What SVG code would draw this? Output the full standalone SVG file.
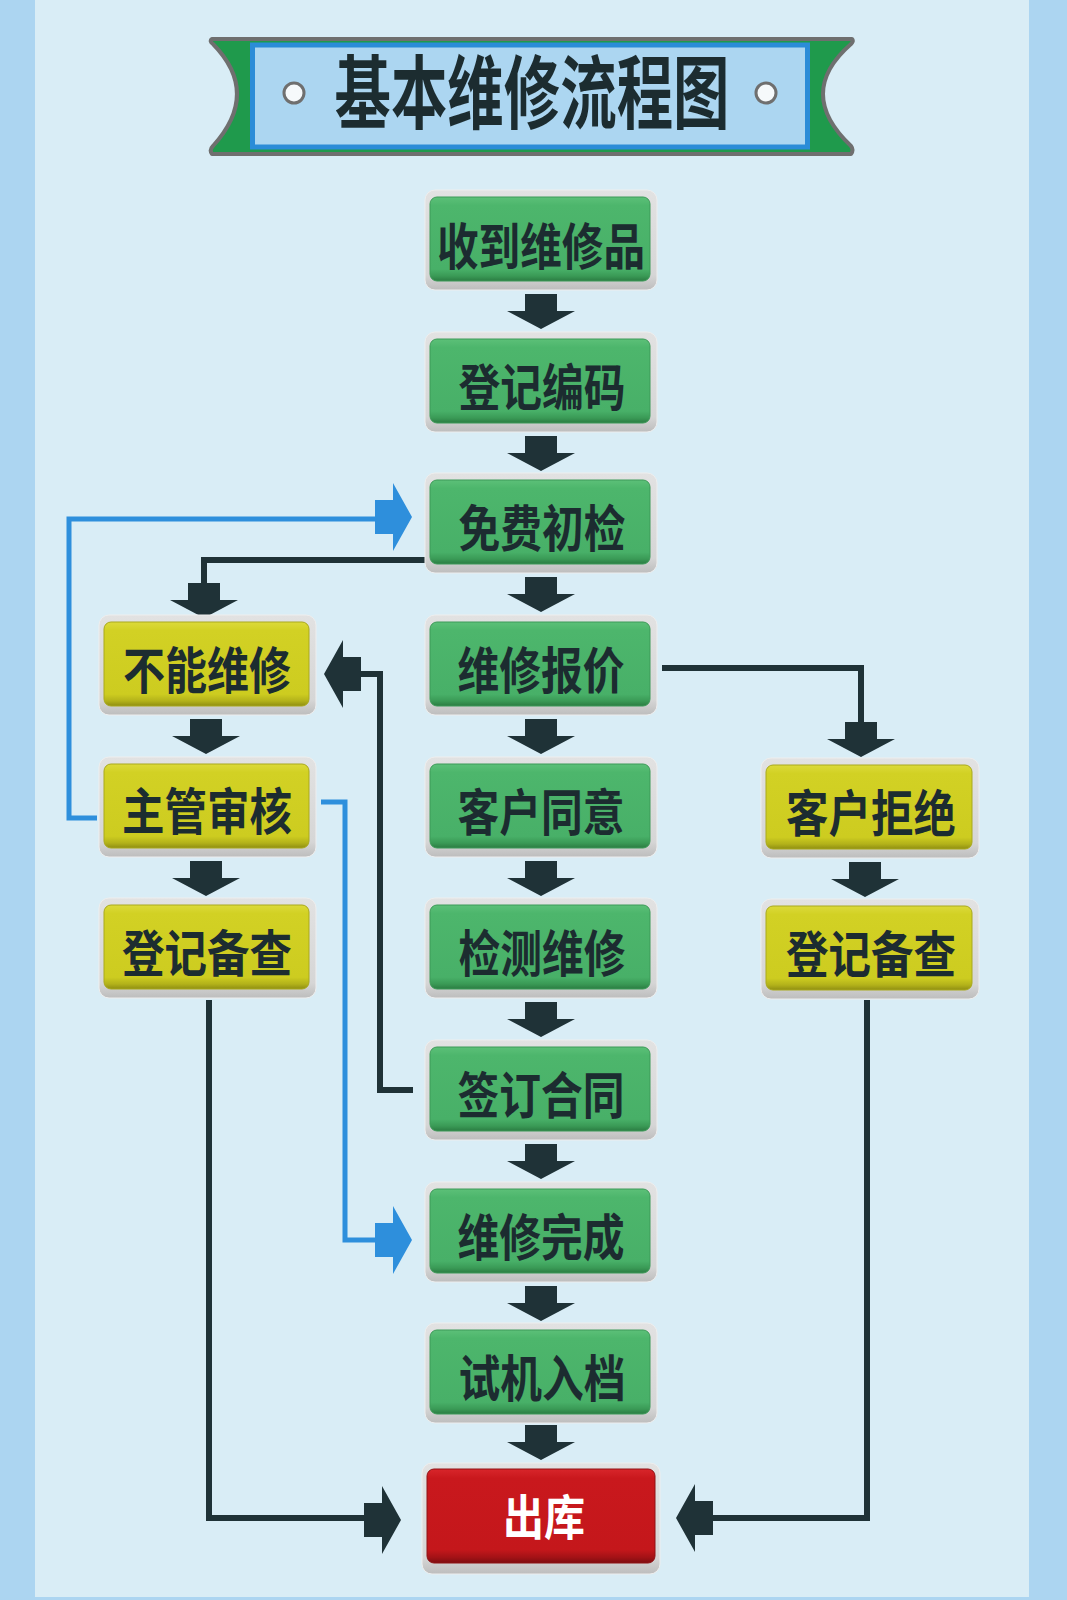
<svg xmlns="http://www.w3.org/2000/svg" xmlns:xlink="http://www.w3.org/1999/xlink" width="1067" height="1600" viewBox="0 0 1067 1600">
<defs>
<style>
.frame{fill:url(#gFrame);stroke:#eeeeee;stroke-width:1}
.green .body{fill:url(#gGreen);stroke:#3d9a58;stroke-width:1}
.yellow .body{fill:url(#gYellow);stroke:#a9a91c;stroke-width:1}
.red .body{fill:url(#gRed);stroke:#8f1215;stroke-width:1}
.node text{font-family:"Noto Sans CJK SC","Noto Sans CJK TC",sans-serif;font-weight:700;font-size:50px;fill:#1c2c30;text-anchor:middle}
.red text{fill:#ffffff;font-size:48px}
.dark{fill:none;stroke:#1f3237;stroke-width:6}
.blue{fill:none;stroke:#2e8fdc;stroke-width:5}
.ahd{fill:#1f3237}
.ahb{fill:#2e8fdc}
</style>
<linearGradient id="gFrame" x1="0" y1="0" x2="0" y2="1">
<stop offset="0" stop-color="#e2e2e2"/><stop offset="0.85" stop-color="#d6d6d6"/><stop offset="1" stop-color="#bdbdbd"/>
</linearGradient>
<linearGradient id="gGreen" x1="0" y1="0" x2="0" y2="1">
<stop offset="0" stop-color="#5cc078"/><stop offset="0.1" stop-color="#4db66c"/><stop offset="0.86" stop-color="#48b068"/><stop offset="0.94" stop-color="#3a9a56"/><stop offset="1" stop-color="#2b7c42"/>
</linearGradient>
<linearGradient id="gYellow" x1="0" y1="0" x2="0" y2="1">
<stop offset="0" stop-color="#dcda3a"/><stop offset="0.1" stop-color="#d2d124"/><stop offset="0.86" stop-color="#cdcc20"/><stop offset="0.94" stop-color="#b3b21a"/><stop offset="1" stop-color="#8f8e12"/>
</linearGradient>
<linearGradient id="gRed" x1="0" y1="0" x2="0" y2="1">
<stop offset="0" stop-color="#d8262b"/><stop offset="0.1" stop-color="#c9181d"/><stop offset="0.86" stop-color="#c4171b"/><stop offset="0.94" stop-color="#a31216"/><stop offset="1" stop-color="#7e0d10"/>
</linearGradient>
<path id="arrDown" d="M-16 0H16V17H34L0 35L-34 17H-16Z"/>
<path id="arrRight" d="M0 -17H18V-34L37 0L18 34V17H0Z"/>
<path id="arrLeft" d="M0 -17H-18V-34L-37 0L-18 34V17H0Z"/>
</defs>

<rect x="0" y="0" width="1067" height="1600" fill="#acd5f1"/>
<rect x="35" y="0" width="994" height="1597" fill="#d9edf6"/>

<g id="title">
<path d="M212 39H852Q854 41 851 44Q795 93 851 146Q854 150 851 154H212Q209 150 213 146Q261 93 213 44Q209 41 212 39Z" fill="#1f9a4c" stroke="#6f6f6f" stroke-width="4" stroke-linejoin="round"/>
<rect x="252.5" y="45" width="555" height="102" fill="#acd6f1" stroke="#2b8cd8" stroke-width="5"/>
<circle cx="294" cy="93" r="10" fill="#f6f9fb" stroke="#6f6f6f" stroke-width="3"/>
<circle cx="766" cy="93" r="10" fill="#f6f9fb" stroke="#6f6f6f" stroke-width="3"/>
<text x="532" y="122" textLength="395" lengthAdjust="spacingAndGlyphs" font-family="Noto Sans CJK SC, Noto Sans CJK TC, sans-serif" font-weight="700" font-size="80" fill="#1c2c30" text-anchor="middle">基本维修流程图</text>
</g>

<g id="connectors">
<use href="#arrDown" x="541" y="294" class="ahd"/>
<use href="#arrDown" x="541" y="436" class="ahd"/>
<use href="#arrDown" x="541" y="577" class="ahd"/>
<use href="#arrDown" x="541" y="719" class="ahd"/>
<use href="#arrDown" x="541" y="861" class="ahd"/>
<use href="#arrDown" x="541" y="1002" class="ahd"/>
<use href="#arrDown" x="541" y="1144" class="ahd"/>
<use href="#arrDown" x="541" y="1286" class="ahd"/>
<use href="#arrDown" x="541" y="1425" class="ahd"/>
<use href="#arrDown" x="206" y="719" class="ahd"/>
<use href="#arrDown" x="206" y="861" class="ahd"/>
<use href="#arrDown" x="865" y="862" class="ahd"/>
<path class="dark" d="M428 560H204V590"/>
<use href="#arrDown" x="204" y="583" class="ahd"/>
<path class="dark" d="M662 668H861V726"/>
<use href="#arrDown" x="861" y="722" class="ahd"/>
<path class="dark" d="M413 1090H380V674H358"/>
<use href="#arrLeft" x="361" y="674" class="ahd"/>
<path class="dark" d="M209 1000V1518H370"/>
<use href="#arrRight" x="364" y="1520" class="ahd"/>
<path class="dark" d="M867 1000V1518H708"/>
<use href="#arrLeft" x="713" y="1518" class="ahd"/>
<path class="blue" d="M97 818H69V519H380"/>
<use href="#arrRight" x="375" y="517" class="ahb"/>
<path class="blue" d="M321 802H345V1240H380"/>
<use href="#arrRight" x="375" y="1240" class="ahb"/>
</g>

<g id="n1" class="node green">
<rect class="frame" x="425" y="190" width="232" height="100" rx="10"/>
<rect class="body" x="430" y="197" width="220" height="84" rx="7"/>
<text x="541" y="265" textLength="208" lengthAdjust="spacingAndGlyphs">收到维修品</text>
</g>
<g id="n2" class="node green">
<rect class="frame" x="425" y="332" width="232" height="100" rx="10"/>
<rect class="body" x="430" y="339" width="220" height="84" rx="7"/>
<text x="542" y="406" textLength="167" lengthAdjust="spacingAndGlyphs">登记编码</text>
</g>
<g id="n3" class="node green">
<rect class="frame" x="425" y="473" width="232" height="100" rx="10"/>
<rect class="body" x="430" y="480" width="220" height="84" rx="7"/>
<text x="542" y="547" textLength="167" lengthAdjust="spacingAndGlyphs">免费初检</text>
</g>
<g id="n4" class="node green">
<rect class="frame" x="425" y="615" width="232" height="100" rx="10"/>
<rect class="body" x="430" y="622" width="220" height="84" rx="7"/>
<text x="541" y="689" textLength="167" lengthAdjust="spacingAndGlyphs">维修报价</text>
</g>
<g id="n5" class="node green">
<rect class="frame" x="425" y="757" width="232" height="100" rx="10"/>
<rect class="body" x="430" y="764" width="220" height="84" rx="7"/>
<text x="541" y="831" textLength="167" lengthAdjust="spacingAndGlyphs">客户同意</text>
</g>
<g id="n6" class="node green">
<rect class="frame" x="425" y="898" width="232" height="100" rx="10"/>
<rect class="body" x="430" y="905" width="220" height="84" rx="7"/>
<text x="542" y="972" textLength="167" lengthAdjust="spacingAndGlyphs">检测维修</text>
</g>
<g id="n7" class="node green">
<rect class="frame" x="425" y="1040" width="232" height="100" rx="10"/>
<rect class="body" x="430" y="1047" width="220" height="84" rx="7"/>
<text x="541" y="1114" textLength="167" lengthAdjust="spacingAndGlyphs">签订合同</text>
</g>
<g id="n8" class="node green">
<rect class="frame" x="425" y="1182" width="232" height="100" rx="10"/>
<rect class="body" x="430" y="1189" width="220" height="84" rx="7"/>
<text x="541" y="1256" textLength="167" lengthAdjust="spacingAndGlyphs">维修完成</text>
</g>
<g id="n9" class="node green">
<rect class="frame" x="425" y="1323" width="232" height="100" rx="10"/>
<rect class="body" x="430" y="1330" width="220" height="84" rx="7"/>
<text x="542" y="1397" textLength="167" lengthAdjust="spacingAndGlyphs">试机入档</text>
</g>
<g id="n10" class="node red">
<rect class="frame" x="422" y="1463" width="238" height="111" rx="10"/>
<rect class="body" x="427" y="1469" width="228" height="94" rx="7"/>
<text x="544" y="1535" textLength="82" lengthAdjust="spacingAndGlyphs">出库</text>
</g>

<g id="y1" class="node yellow">
<rect class="frame" x="99" y="615" width="217" height="100" rx="10"/>
<rect class="body" x="104" y="622" width="205" height="84" rx="7"/>
<text x="207" y="689" textLength="168" lengthAdjust="spacingAndGlyphs">不能维修</text>
</g>
<g id="y2" class="node yellow">
<rect class="frame" x="99" y="757" width="217" height="100" rx="10"/>
<rect class="body" x="104" y="764" width="205" height="84" rx="7"/>
<text x="207" y="830" textLength="170" lengthAdjust="spacingAndGlyphs">主管审核</text>
</g>
<g id="y3" class="node yellow">
<rect class="frame" x="99" y="898" width="217" height="100" rx="10"/>
<rect class="body" x="104" y="905" width="205" height="84" rx="7"/>
<text x="207" y="972" textLength="170" lengthAdjust="spacingAndGlyphs">登记备查</text>
</g>
<g id="y4" class="node yellow">
<rect class="frame" x="761" y="758" width="218" height="100" rx="10"/>
<rect class="body" x="766" y="765" width="206" height="84" rx="7"/>
<text x="871" y="832" textLength="170" lengthAdjust="spacingAndGlyphs">客户拒绝</text>
</g>
<g id="y5" class="node yellow">
<rect class="frame" x="761" y="899" width="218" height="100" rx="10"/>
<rect class="body" x="766" y="906" width="206" height="84" rx="7"/>
<text x="871" y="973" textLength="170" lengthAdjust="spacingAndGlyphs">登记备查</text>
</g>
</svg>
